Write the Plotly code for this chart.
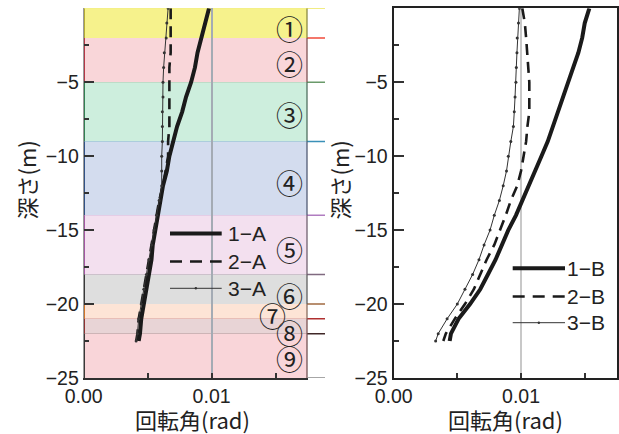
import plotly.graph_objects as go

# ---------------- data ----------------
depth = [0, -1, -2, -3, -4, -5, -6, -7, -8, -9, -10, -11, -12, -13, -14, -15,
         -16, -17, -18, -19, -20, -21, -22, -22.5]

rot_1A = [0.0098, 0.0095, 0.0092, 0.0089, 0.0087, 0.0084, 0.0080, 0.0077, 0.0073, 0.0070,
          0.0067, 0.0065, 0.0062, 0.0060, 0.0058, 0.0056, 0.0054, 0.0053, 0.0051, 0.0049,
          0.0047, 0.0045, 0.0044, 0.0043]
rot_2A = [0.0068, 0.0068, 0.0068, 0.0068, 0.0067, 0.0067, 0.0067, 0.0067, 0.0067, 0.0066,
          0.0066, 0.0064, 0.0062, 0.0059, 0.0057, 0.0055, 0.0053, 0.0051, 0.0049, 0.0047,
          0.0045, 0.0043, 0.0042, 0.0041]
rot_3A = [0.0066, 0.0065, 0.00645, 0.0063, 0.00625, 0.0062, 0.0062, 0.00615, 0.00615, 0.00615,
          0.0061, 0.0061, 0.0061, 0.0059, 0.0057, 0.0055, 0.0053, 0.0051, 0.0049, 0.0047,
          0.0045, 0.0043, 0.0042, 0.0041]

rot_1B = [0.01536, 0.0150, 0.0148, 0.0145, 0.0141, 0.0137, 0.0133, 0.0129, 0.0125, 0.0121,
          0.0116, 0.0111, 0.0106, 0.0101, 0.0096, 0.0090, 0.0085, 0.0080, 0.0074, 0.0068,
          0.0060, 0.0051, 0.0045, 0.0044]
rot_2B = [0.0101, 0.0103, 0.0104, 0.0105, 0.0106, 0.01065, 0.01065, 0.01065, 0.0105, 0.0104,
          0.0102, 0.0100, 0.0097, 0.0092, 0.0088, 0.00835, 0.0079, 0.0073, 0.0068, 0.0063,
          0.0056, 0.0048, 0.0041, 0.0039]
rot_3B = [0.00987, 0.0098, 0.0097, 0.00968, 0.00963, 0.0096, 0.00953, 0.00947, 0.0094, 0.0092,
          0.0090, 0.00886, 0.0086, 0.0083, 0.0079, 0.00757, 0.0071, 0.0067, 0.0062, 0.0056,
          0.0050, 0.0042, 0.0035, 0.0033]

names_A = ["1−A", "2−A", "3−A"]
names_B = ["1−B", "2−B", "3−B"]

x_tickvals = [0, 0.01]
x_ticktext = ["0.00", "0.01"]
y_tickvals = [-5, -10, -15, -20, -25]
y_ticktext = ["−5", "−10", "−15", "−20", "−25"]

layer_labels = ["①", "②", "③", "④", "⑤", "⑥", "⑦", "⑧", "⑨"]
layer_tops = [0, -2, -5, -9, -14, -18, -20, -21, -22]
layer_bottoms = [-2, -5, -9, -14, -18, -20, -21, -22, -25]

# ---------------- styles ----------------
layer_fill = ["#f6f28c", "#f9d6d9", "#cdeedd", "#d3dcee", "#f3e0ef",
              "#dedede", "#fde4d6", "#e8d4d6", "#f9d5d9"]
layer_topline = ["#ece65a", "#f04a3a", "#6a9a6a", "#3a90b8", "#b07cc0",
                 "#806a80", "#a06a40", "#b03030", "#402828"]
layer_leftedge = ["#b0a830", "#b03040", "#2a7a4a", "#2a4a80", "#a050a0",
                  "#303030", "#d07020", "#8a2a2a", "#303030"]
layer_rightedge = ["#6b6b2a", "#5a2a2a", "#2a4a3a", "#2a3550", "#4a3a4a",
                   "#383838", "#6a4a3a", "#5a2a2a", "#4a2a2a"]
label_depth = [-1.35, -3.7, -7.2, -11.8, -16.3, -19.4, -20.75, -21.95, -23.7]
label_xpx = [289, 289, 289, 289, 289, 289, 272, 289, 289]

W, H = 619, 434
XMAX = 0.0175
L0, L1 = 83.7, 307.5
R0, R1 = 393.6, 616.6
TOP, BOT = 8.3, 378


def px(v):
    return v / W


def py(v):
    return 1 - v / H


LINE_COL = "#1a1a1a"
THIN_COL = "#333333"
TICK_FONT = dict(family="Liberation Sans, Arial, sans-serif", size=19.5, color="#222222")
JP_FONT = "Noto Sans CJK JP"

styles = [
    dict(line=dict(color=LINE_COL, width=4), mode="lines"),
    dict(line=dict(color=LINE_COL, width=2.6, dash="11px,7px"), mode="lines"),
    dict(line=dict(color=THIN_COL, width=1), mode="lines+markers",
         marker=dict(size=3, color=THIN_COL)),
]

fig = go.Figure()

for vals, name, st in zip([rot_1A, rot_2A, rot_3A], names_A, styles):
    fig.add_trace(go.Scatter(x=vals, y=depth, name=name, xaxis="x", yaxis="y",
                             showlegend=False, **st))
for vals, name, st in zip([rot_1B, rot_2B, rot_3B], names_B, styles):
    fig.add_trace(go.Scatter(x=vals, y=depth, name=name, xaxis="x2", yaxis="y2",
                             showlegend=False, **st))

shapes = []
annotations = []

# soil layers (left panel)
for i in range(len(layer_labels)):
    shapes.append(dict(type="rect", xref="x", yref="y", x0=0, x1=XMAX,
                       y0=layer_bottoms[i], y1=layer_tops[i],
                       fillcolor=layer_fill[i], line=dict(width=0), layer="below"))
for i in range(len(layer_labels)):
    shapes.append(dict(type="line", xref="x", yref="y", x0=0, x1=0,
                       y0=layer_bottoms[i], y1=layer_tops[i],
                       line=dict(color=layer_leftedge[i], width=2.5), layer="below"))
    shapes.append(dict(type="line", xref="x", yref="y", x0=XMAX, x1=XMAX,
                       y0=layer_bottoms[i], y1=layer_tops[i],
                       line=dict(color=layer_rightedge[i], width=2), layer="below"))
    shapes.append(dict(type="line", xref="paper", yref="y", x0=px(L0), x1=px(325),
                       y0=layer_tops[i], y1=layer_tops[i],
                       line=dict(color=layer_topline[i], width=1.5), layer="below"))
    annotations.append(dict(xref="x", yref="y",
                            x=(label_xpx[i] - L0) / (L1 - L0) * XMAX,
                            y=label_depth[i], text=layer_labels[i], showarrow=False,
                            font=dict(family=JP_FONT, size=27, color="#222222")))
# bottom extension line
shapes.append(dict(type="line", xref="paper", yref="y", x0=px(L1), x1=px(325),
                   y0=layer_bottoms[-1], y1=layer_bottoms[-1],
                   line=dict(color="#888888", width=1.5)))


# legends (drawn)
def add_legend(x0, x1, xt, rows, names):
    for k, (yy, nm) in enumerate(zip(rows, names)):
        if k == 0:
            ln = dict(color=LINE_COL, width=4)
        elif k == 1:
            ln = dict(color=LINE_COL, width=2.6, dash="12px,8px")
        else:
            ln = dict(color=THIN_COL, width=1)
        shapes.append(dict(type="line", xref="paper", yref="paper", x0=px(x0), x1=px(x1),
                           y0=py(yy), y1=py(yy), line=ln))
        if k == 2:
            cx = (x0 + x1) / 2
            shapes.append(dict(type="circle", xref="paper", yref="paper",
                               x0=px(cx - 1.2), x1=px(cx + 1.2),
                               y0=py(yy + 1.2), y1=py(yy - 1.2),
                               fillcolor=THIN_COL, line=dict(width=0)))
        annotations.append(dict(xref="paper", yref="paper", x=px(xt), y=py(yy),
                                xanchor="left", yanchor="middle", text=nm, showarrow=False,
                                font=dict(family="Liberation Sans, Arial, sans-serif",
                                          size=21, color="#222222")))


add_legend(170, 221.7, 226, [233.5, 261.5, 288.3], names_A)
add_legend(512.7, 565, 565, [268.3, 296.5, 322.7], names_B)

# axis titles
for cx in [192.5, 505.8]:
    annotations.append(dict(xref="paper", yref="paper", x=px(cx), y=py(419),
                            xanchor="center", yanchor="middle", text="回転角(rad)",
                            showarrow=False,
                            font=dict(family=JP_FONT, size=22, color="#222222")))
for cx in [26, 339]:
    annotations.append(dict(xref="paper", yref="paper", x=px(cx), y=py(180.5),
                            xanchor="center", yanchor="middle", text="深さ(m)",
                            textangle=-90, showarrow=False,
                            font=dict(family=JP_FONT, size=22, color="#222222")))

xcommon = dict(range=[0, XMAX], tickmode="array", tickvals=x_tickvals, ticktext=x_ticktext,
               ticks="inside", ticklen=5, tickwidth=1.5, tickcolor="#333333",
               tickfont=TICK_FONT, showgrid=True, gridwidth=1.5, zeroline=False,
               automargin=False,
               minor=dict(tickmode="array", tickvals=[0.005, 0.015], ticks="inside",
                          ticklen=5, tickwidth=1.5, tickcolor="#333333", showgrid=False))
ycommon = dict(range=[-25, 0], tickmode="array", tickvals=y_tickvals, ticktext=y_ticktext,
               ticks="inside", ticklen=10, tickwidth=2, tickcolor="#333333",
               tickfont=TICK_FONT, showgrid=False, zeroline=False, automargin=False,
               minor=dict(tickmode="array", tickvals=[-2.5, -7.5, -12.5, -17.5, -22.5],
                          ticks="inside", ticklen=5, tickwidth=1.5, tickcolor="#333333",
                          showgrid=False))

fig.update_layout(
    width=W, height=H, autosize=False,
    margin=dict(l=0, r=0, t=0, b=0),
    paper_bgcolor="white", plot_bgcolor="white",
    showlegend=False,
    xaxis=dict(domain=[px(L0), px(L1)], anchor="y", showline=True, linecolor="#303030",
               linewidth=2, gridcolor="#a4abb4", **xcommon),
    yaxis=dict(domain=[py(BOT), py(TOP)], anchor="x", showline=True, linecolor="#9a9a9a",
               linewidth=1, **ycommon),
    xaxis2=dict(domain=[px(R0), px(R1)], anchor="y2", showline=True, linecolor="#222222",
                linewidth=2, mirror=True, gridcolor="#c8c8c8", **xcommon),
    yaxis2=dict(domain=[py(BOT), py(TOP)], anchor="x2", showline=True, linecolor="#222222",
                linewidth=2, mirror=True, **ycommon),
    shapes=shapes,
    annotations=annotations,
)

fig.write_html("out.html", config={"displayModeBar": False},
               post_script="document.body.style.margin='0';")
